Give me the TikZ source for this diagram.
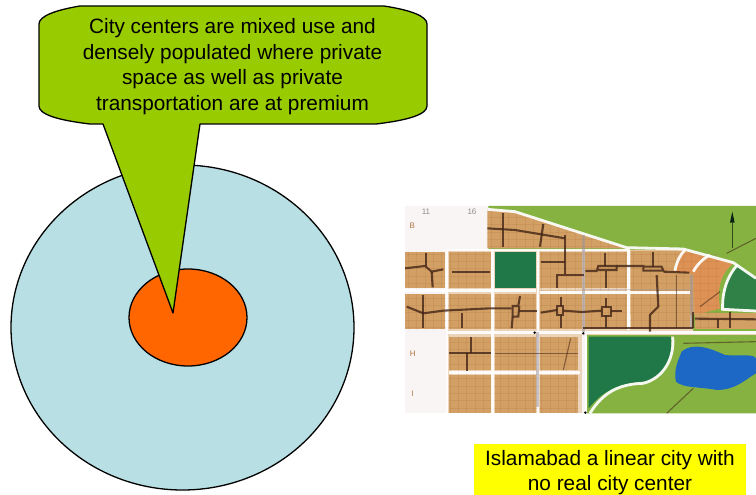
\documentclass[tikz,border=0pt]{standalone}
\usepackage{fontspec}
\setmainfont{Liberation Sans}
\definecolor{discblue}{RGB}{184,224,228}
\definecolor{coreorange}{RGB}{255,102,0}
\definecolor{calloutgreen}{RGB}{153,204,0}
\definecolor{labelyellow}{RGB}{255,255,0}
\definecolor{mapwhite}{RGB}{250,245,245}
\definecolor{maptan}{RGB}{210,160,100}
\definecolor{maptandark}{RGB}{176,118,66}
\definecolor{maporange}{RGB}{222,145,85}
\definecolor{mapgrass}{RGB}{134,178,66}
\definecolor{mappark}{RGB}{32,120,72}
\definecolor{maplake}{RGB}{28,104,196}
\definecolor{maproad}{RGB}{66,36,22}
\definecolor{mapgrey}{RGB}{160,150,160}
\tikzset{
  shapeline/.style={draw=black,line width=1.3pt,line join=round},
  block/.style={fill=maptan},
  brownroad/.style={draw=maproad,line width=2.1pt,opacity=.8},
  thinroad/.style={draw=maproad,line width=1.1pt,opacity=.55},
  whiteroad/.style={draw=white,line width=2.8pt,opacity=.92},
  greyroad/.style={draw=mapgrey,line width=3pt,opacity=.55},
  maptext/.style={text=black,align=center,inner sep=0pt},
}
\begin{document}
\begin{tikzpicture}[x=1pt,y=-1pt]
\useasboundingbox (0,0) rectangle (756,495);
% disc and core
\draw[shapeline,fill=discblue] (182.5,327.5) ellipse [x radius=171.5,y radius=162.5];
\draw[shapeline,fill=coreorange] (188,317.5) ellipse [x radius=59,y radius=48.5];
% callout
\coordinate (tip) at (173,313);
\draw[shapeline,fill=calloutgreen]
  (80,6) -- (384,6)
  .. controls (410,10) and (427,16) .. (427,24)
  -- (427,106)
  .. controls (427,114) and (410,120) .. (376,124)
  -- (200,124) -- (tip) -- (103,124) -- (90,124)
  .. controls (56,120) and (39,114) .. (39,106)
  -- (39,24)
  .. controls (39,16) and (56,10) .. (80,6) -- cycle;
\node[maptext,font=\fontsize{20.8}{25.6}\selectfont] (calloutText) at (232.5,66.5) {City centers are mixed use and\\densely populated where private\\space as well as private\\transportation are at premium};
% map, in coordinates of a 3x enlargement with origin at (400,200)
\begin{scope}[shift={(400,200)},x=0.3333pt,y=-0.3333pt]
\begin{scope}
\clip (15,18) rectangle (1068,640);
\fill[mapwhite] (15,18) rectangle (1068,640);
\fill[mapgrass] (265,18) -- (1068,18) -- (1068,640) -- (560,640) -- (560,395) -- (265,395) -- cycle;
\fill[white!55!maptan] (140,150) -- (850,150) -- (880,395) -- (1068,395) -- (1068,405) -- (140,405) -- cycle;
\fill[white!55!maptan] (140,405) rectangle (545,640);
\fill[mapwhite] (545,405) rectangle (560,640);
% blocks
\fill[block] (262,25) -- (345,35) -- (680,145) -- (262,145) -- cycle;
\foreach \xa/\xb in {15/135,148/272,420/545,555/680}
  \fill[block] (\xa,155) rectangle (\xb,265);
\fill[mappark] (285,155) rectangle (408,265);
\fill[block] (692,152) -- (850,152) -- (1000,190) .. controls (960,220) and (950,270) .. (960,325) -- (885,345) -- (692,345) -- cycle;
\fill[maporange] (850,152) -- (1000,190) .. controls (960,220) and (950,270) .. (960,325) -- (885,345) -- (880,220) -- (825,215) -- cycle;
\foreach \xa/\xb in {15/135,148/272,285/408,420/545,555/680,692/870}
  \fill[block] (\xa,282) rectangle (\xb,388);
\fill[block] (885,340) rectangle (1068,388);
\foreach \xa/\xb in {148/272,285/408,420/535}{
  \fill[block] (\xa,410) rectangle (\xb,510);
  \fill[block] (\xa,525) rectangle (\xb,640);
}
% block texture
\begin{scope}
\clip (148,155) rectangle (272,265) (15,155) rectangle (135,265) (420,155) rectangle (960,388) (15,282) rectangle (408,388) (148,410) rectangle (535,640) (262,25) -- (345,35) -- (680,145) -- (262,145) -- cycle;
\foreach \gx in {25,50,...,1000}
  \draw[maptandark,line width=.5pt,opacity=.22] (\gx,18) -- (\gx,640);
\foreach \gy in {30,52,...,640}
  \draw[maptandark,line width=.5pt,opacity=.22] (15,\gy) -- (1000,\gy);
\end{scope}
% parks and lake
\fill[mappark] (566,410) -- (812,410) .. controls (822,470) and (790,535) .. (730,545) .. controls (660,550) and (610,570) .. (566,625) -- cycle;
\fill[mappark!85!mapgrass] (1012,200) -- (1068,235) -- (1068,330) -- (972,325) .. controls (970,270) and (985,225) .. (1012,200) -- cycle;
\fill[maplake] (845,455) .. controls (880,425) and (930,445) .. (975,465) .. controls (1020,470) and (1060,460) .. (1068,475)
  -- (1068,520) .. controls (1040,535) and (1010,570) .. (950,570) .. controls (900,560) and (850,565) .. (828,545) .. controls (820,510) and (835,480) .. (845,455) -- cycle;
% white roads
\draw[whiteroad] (262,28) -- (345,35) -- (680,143) -- (850,147) -- (1000,188) -- (1068,235);
\draw[whiteroad] (15,272) -- (408,272);
\draw[whiteroad] (420,278) -- (870,278);
\draw[whiteroad] (140,150) -- (680,150);
\draw[whiteroad] (141,150) -- (141,640);
\draw[whiteroad] (278,150) -- (278,640);
\draw[whiteroad] (414,150) -- (414,640);
\draw[whiteroad] (686,145) -- (686,390);
\draw[whiteroad] (140,398) -- (1068,398);
\draw[whiteroad] (148,517) -- (540,517);
\draw[whiteroad] (558,400) -- (558,640);
\draw[whiteroad] (818,410) .. controls (825,475) and (790,535) .. (730,550) .. controls (660,552) and (610,575) .. (570,640);
\draw[whiteroad] (1012,195) .. controls (985,225) and (966,270) .. (968,328) -- (1068,333);
\draw[whiteroad] (825,212) .. controls (830,185) and (840,165) .. (855,150);
\draw[whiteroad] (880,215) .. controls (890,195) and (910,175) .. (930,165);
% grey roads
\draw[greyroad] (550,105) -- (550,395);
\draw[greyroad] (414,395) -- (414,620);
\draw[greyroad] (875,225) -- (875,385);
\draw[greyroad,line width=1.5pt,opacity=.4] (555,268) -- (870,268);
% brown roads
\draw[brownroad] (262,85) -- (345,90) -- (495,115);
\draw[brownroad] (310,40) -- (310,140);
\draw[brownroad] (430,72) -- (420,140);
\draw[brownroad] (496,105) -- (496,222);
\draw[brownroad] (422,185) -- (496,185);
\draw[brownroad] (470,265) -- (470,225) -- (552,225);
\draw[brownroad] (15,205) -- (75,198) -- (95,215) -- (130,208);
\draw[brownroad] (77,160) -- (77,198);
\draw[brownroad] (95,215) -- (98,262);
\draw[brownroad] (155,215) -- (270,215);
\draw[brownroad] (556,213) -- (590,213) -- (595,198) -- (650,198) -- (650,210) -- (595,210);
\draw[brownroad] (615,158) -- (615,198);
\draw[brownroad] (618,212) -- (618,265);
\draw[brownroad] (650,198) -- (730,198) -- (730,212) -- (790,212) -- (785,200) -- (730,200);
\draw[brownroad] (758,155) -- (758,200);
\draw[brownroad] (790,215) -- (868,218);
\draw[brownroad] (770,225) -- (775,320) -- (750,345) -- (750,395);
\draw[thinroad] (830,225) -- (830,385);
\draw[brownroad] (20,320) -- (70,340) -- (130,332) -- (270,325) -- (335,325);
\draw[brownroad] (70,285) -- (70,385);
\draw[brownroad] (187,340) -- (187,385);
\draw[brownroad] (360,288) -- (355,318) -- (338,318) -- (338,350) -- (355,350) -- (358,318);
\draw[brownroad] (338,350) -- (335,385);
\draw[brownroad] (358,332) -- (410,332);
\draw[brownroad] (422,338) -- (472,330);
\draw[brownroad] (472,318) rectangle (490,345);
\draw[brownroad] (482,290) -- (482,318);
\draw[brownroad] (482,345) -- (482,385);
\draw[brownroad] (490,332) -- (545,336) -- (605,332);
\draw[brownroad] (605,320) rectangle (632,347);
\draw[brownroad] (618,295) -- (618,320);
\draw[brownroad] (618,347) -- (618,385);
\draw[brownroad] (632,332) -- (665,332);
\draw[brownroad] (550,385) -- (878,385);
\draw[brownroad] (878,335) -- (878,385);
\draw[brownroad] (885,356) -- (1068,358);
\draw[brownroad] (955,358) -- (955,385);
\draw[brownroad] (990,335) -- (990,385);
\draw[brownroad] (148,460) -- (272,460);
\draw[brownroad] (212,412) -- (212,460);
\draw[brownroad] (200,460) -- (200,512);
\draw[thinroad] (285,460) -- (535,460);
\draw[thinroad] (512,415) -- (490,510);
\draw[thinroad] (900,320) -- (960,275);
\draw[thinroad] (980,160) -- (1068,115);
\draw[thinroad] (850,430) -- (1068,425);
\draw[thinroad] (800,640) -- (880,565);
% north arrow
\fill[black!75!mappark] (997,35) -- (1004,68) -- (990,68) -- cycle;
\draw[black!60!mapgrass,line width=.6pt] (997,68) -- (997,145);
\fill[black] (404,398) circle (4) (550,400) circle (4) (556,638) circle (4);
% faint printed labels
\node[text=black!45,font=\fontsize{8}{8}\selectfont,inner sep=0pt] (m1) at (78,36) {11};
\node[text=black!45,font=\fontsize{8}{8}\selectfont,inner sep=0pt] (m2) at (216,36) {16};
\node[text=maptandark,font=\fontsize{8}{8}\selectfont,inner sep=0pt] (m3) at (37,78) {B};
\node[text=maptandark,font=\fontsize{8}{8}\selectfont,inner sep=0pt] (m4) at (38,460) {H};
\node[text=maptandark,font=\fontsize{8}{8}\selectfont,inner sep=0pt] (m5) at (38,582) {I};
\end{scope}
\end{scope}
% yellow label
\node[fill=labelyellow,minimum width=272pt,minimum height=51pt,inner sep=0pt] (labelBox) at (610,469.5) {};
\node[maptext,font=\fontsize{20.8}{25}\selectfont] (labelText) at (610,472.5) {Islamabad a linear city with\\no real city center};
\end{tikzpicture}
\end{document}
